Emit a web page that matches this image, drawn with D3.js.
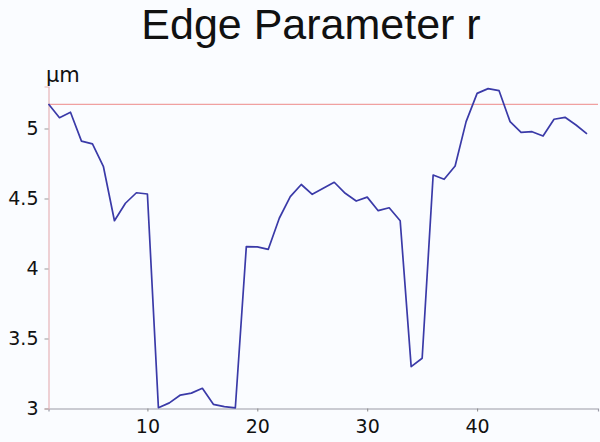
<!DOCTYPE html>
<html>
<head>
<meta charset="utf-8">
<script src="https://cdn.jsdelivr.net/npm/d3@7"></script>
<style>
  html, body { margin: 0; padding: 0; background: #fafcff; }
  svg { display: block; }
</style>
</head>
<body>
<div id="chart"></div>
<script>
const title = "Edge Parameter r";
const unitLabel = "μm";
const xValues = d3.range(1, 51);
const rValues = [
  5.175, 5.077, 5.116, 4.91, 4.89, 4.727, 4.341, 4.466, 4.541, 4.532,
  3.006, 3.04, 3.096, 3.11, 3.144, 3.03, 3.013, 3.005, 4.156, 4.154,
  4.137, 4.359, 4.513, 4.60, 4.53, 4.573, 4.616, 4.537, 4.482, 4.51,
  4.413, 4.434, 4.341, 3.299, 3.359, 4.668, 4.637, 4.732, 5.049, 5.251,
  5.285, 5.27, 5.049, 4.973, 4.977, 4.946, 5.066, 5.08, 5.025, 4.961
];
const limitValue = 5.173;
const xTicks = [10, 20, 30, 40];
const yTicks = [3, 3.5, 4, 4.5, 5];
const xDomain = [1, 51];
const yDomain = [3, 5.3];

const W = 600, H = 442;
const plotLeft = 48.5, plotRight = 598, plotBottom = 408.5, pxPerUnit = 140;

const svg = d3.select("#chart").append("svg")
  .attr("width", W).attr("height", H);

svg.append("rect").attr("width", W).attr("height", H).attr("fill", "#fafcff");

const x = d3.scaleLinear().domain(xDomain).range([plotLeft, plotRight]);
const y = d3.scaleLinear().domain(yDomain)
  .range([plotBottom, plotBottom - pxPerUnit * (yDomain[1] - yDomain[0])]);

svg.append("text")
  .attr("x", 311).attr("y", 39)
  .attr("text-anchor", "middle")
  .attr("font-family", "Liberation Sans, Arial, sans-serif")
  .attr("font-size", 43)
  .attr("fill", "#111")
  .text(title);

svg.append("text")
  .attr("x", 46).attr("y", 81.5)
  .attr("font-family", "DejaVu Sans, Verdana, sans-serif")
  .attr("font-size", 21)
  .attr("fill", "#111")
  .text(unitLabel);

// X axis
const xAxis = svg.append("g")
  .attr("transform", `translate(0,${y(yDomain[0])})`)
  .call(d3.axisBottom(x).tickValues(xTicks).tickSize(3).tickPadding(8).tickFormat(d3.format("d")));
xAxis.select(".domain").attr("stroke", "#9a9aa6").attr("stroke-width", 1.2);
xAxis.selectAll(".tick line").attr("stroke", "#888");
xAxis.selectAll(".tick text")
  .attr("font-family", "DejaVu Sans, Verdana, sans-serif")
  .attr("font-size", 19).attr("fill", "#111");

// Y axis
const yAxis = svg.append("g")
  .attr("transform", `translate(${x(xDomain[0])},0)`)
  .call(d3.axisLeft(y).tickValues(yTicks).tickSize(4).tickPadding(6).tickFormat(d3.format("~g")));
yAxis.select(".domain").attr("stroke", "#e6b3b8").attr("stroke-width", 1.2);
yAxis.selectAll(".tick line").attr("stroke", "#999");
yAxis.selectAll(".tick text")
  .attr("font-family", "DejaVu Sans, Verdana, sans-serif")
  .attr("font-size", 19).attr("fill", "#111");

// limit line
svg.append("line")
  .attr("x1", x(xDomain[0])).attr("x2", x(xDomain[1]))
  .attr("y1", y(limitValue)).attr("y2", y(limitValue))
  .attr("stroke", "#f0a0a0").attr("stroke-width", 1.3);

// data line
const line = d3.line().x((d, i) => x(xValues[i])).y(d => y(d));
svg.append("path")
  .datum(rValues)
  .attr("d", line)
  .attr("fill", "none")
  .attr("stroke", "#3a3aa8")
  .attr("stroke-width", 1.7)
  .attr("stroke-linejoin", "round");
</script>
</body>
</html>
